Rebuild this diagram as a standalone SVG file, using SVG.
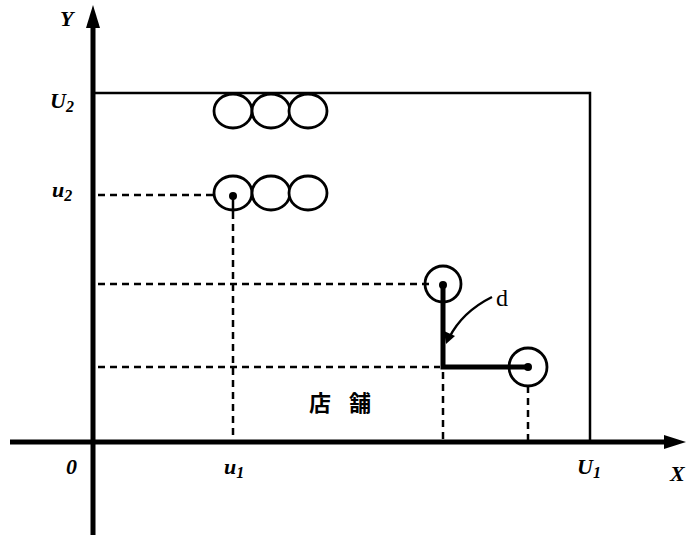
<svg xmlns="http://www.w3.org/2000/svg" width="686" height="538" viewBox="0 0 686 538">
<style>
.ax{stroke:#000;stroke-width:5;fill:none}
.thin{stroke:#000;stroke-width:2.5;fill:none}
.dash{stroke:#000;stroke-width:2.5;stroke-dasharray:7,5;fill:none}
.c{stroke:#000;stroke-width:2.8;fill:#fff}
.thick{stroke:#000;stroke-width:5;fill:none}
.lbl{font-family:"Liberation Serif",serif;font-weight:bold;font-style:italic;font-size:22px;fill:#000}
.sub{font-size:16px}
.cjk{font-family:"Noto Sans CJK JP",sans-serif;font-weight:bold;font-size:22px;fill:#000}
.d{font-family:"Liberation Serif",serif;font-size:24px;fill:#000}
</style>
<rect width="686" height="538" fill="#fff"/>
<g id="connectors">
<line class="ax" x1="93" y1="20" x2="93" y2="535"/>
<polygon points="93,5 86,28 100,28" fill="#000"/>
<line class="ax" x1="10" y1="442" x2="672" y2="442"/>
<polygon points="686,442 664,435 664,449" fill="#000"/>
<polyline class="thin" points="93,93 590,93 590,442"/>
<line class="dash" x1="98" y1="195" x2="228" y2="195"/>
<line class="dash" x1="233" y1="200" x2="233" y2="440"/>
<line class="dash" x1="98" y1="284" x2="432" y2="284"/>
<line class="dash" x1="98" y1="367" x2="440" y2="367"/>
<line class="dash" x1="443" y1="372" x2="443" y2="440"/>
<line class="dash" x1="528" y1="386" x2="528" y2="440"/>
<path d="M492,297 Q462,312 449,338" class="thin"/>
<polygon points="446,344 444,331 455,336" fill="#000"/>
</g>
<g id="top-circles">
<ellipse class="c" cx="233" cy="111" rx="19" ry="17"/>
<ellipse class="c" cx="271" cy="111" rx="19" ry="17"/>
<ellipse class="c" cx="308" cy="111" rx="19" ry="17"/>
</g>
<g id="mid-circles">
<ellipse class="c" cx="233" cy="193" rx="19" ry="17"/>
<ellipse class="c" cx="271" cy="193" rx="19" ry="17"/>
<ellipse class="c" cx="308" cy="193" rx="19" ry="17"/>
<circle cx="233" cy="196" r="4" fill="#000"/>
<line class="thin" x1="233" y1="196" x2="233" y2="212"/>
</g>
<g id="store-pair">
<circle class="c" cx="443" cy="284" r="18" style="fill:none"/>
<circle class="c" cx="528" cy="367" r="19" style="fill:none"/>
<polyline class="thick" points="443,284 443,367 528,367"/>
<circle cx="443" cy="285" r="4" fill="#000"/>
<circle cx="528" cy="367" r="4" fill="#000"/>
</g>
<g id="labels">
<text class="lbl" x="60" y="26">Y</text>
<text class="lbl" x="50" y="108">U<tspan class="sub" dy="4">2</tspan></text>
<text class="lbl" x="52" y="197">u<tspan class="sub" dy="4">2</tspan></text>
<text class="lbl" x="66" y="474">0</text>
<text class="lbl" x="224" y="474">u<tspan class="sub" dy="4">1</tspan></text>
<text class="lbl" x="577" y="474">U<tspan class="sub" dy="4">1</tspan></text>
<text class="lbl" x="670" y="481">X</text>
<text class="d" x="496" y="306">d</text>
<text class="cjk" x="309" y="411" letter-spacing="18">店舗</text>
</g>
</svg>
